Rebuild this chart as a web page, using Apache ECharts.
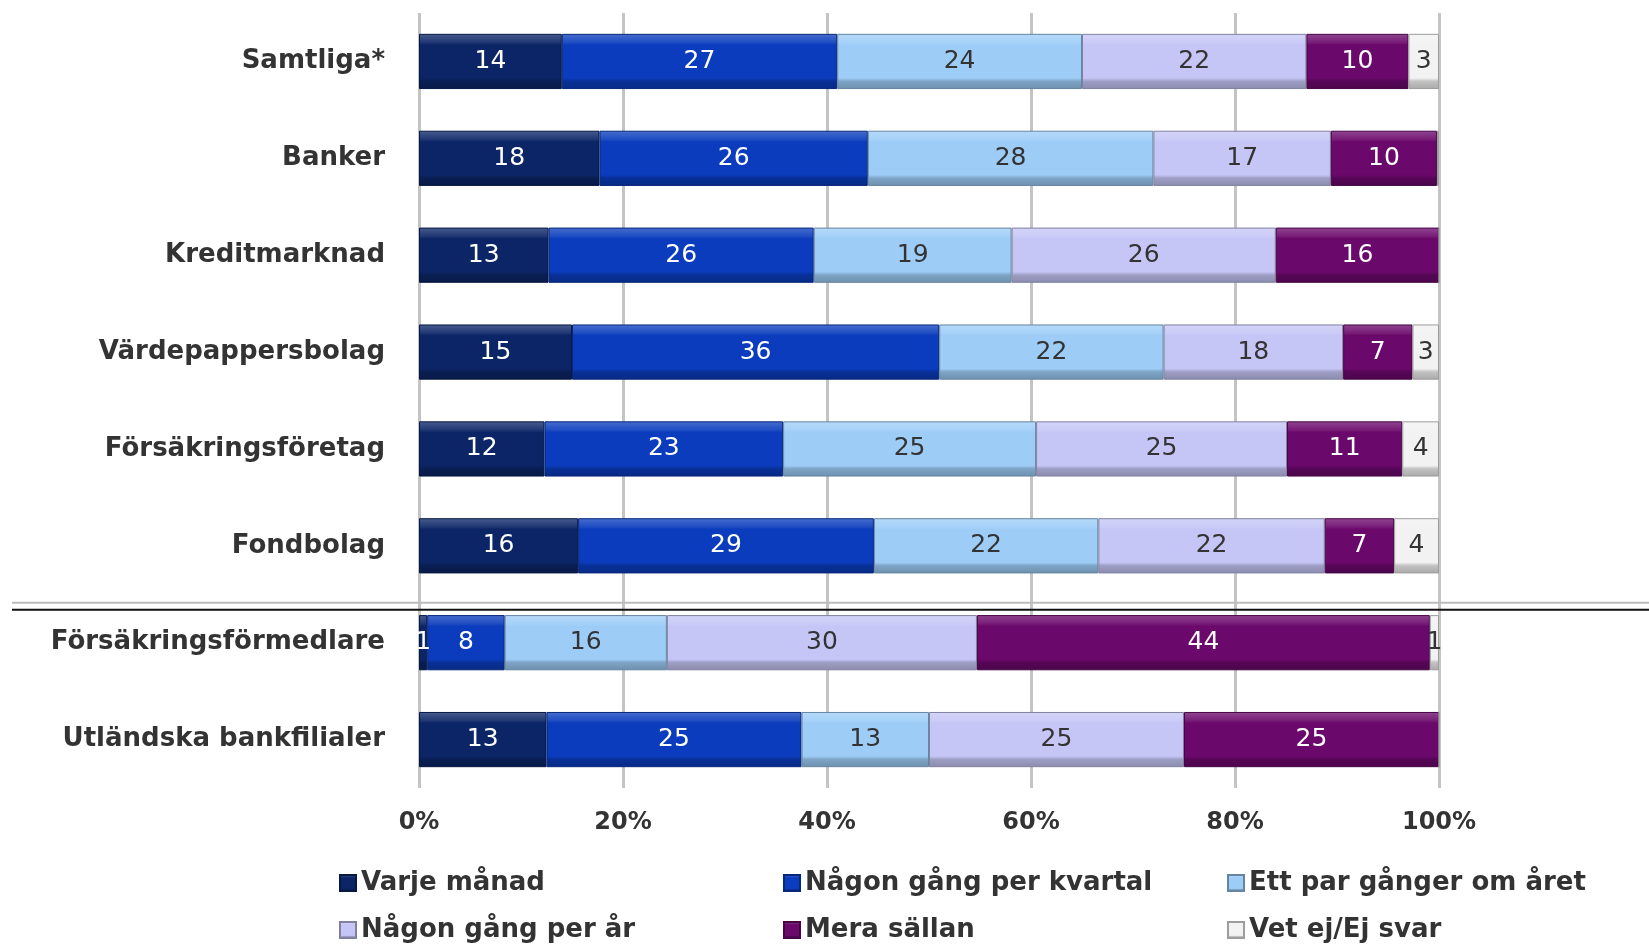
<!DOCTYPE html>
<html><head><meta charset="utf-8">
<script src="https://cdn.jsdelivr.net/npm/echarts@6/dist/echarts.min.js"></script>
<style>html,body{margin:0;padding:0;background:#fff}#c{width:1649px;height:944px}</style>
</head><body><div id="c"></div>
<script>
const categories = ['Samtliga*','Banker','Kreditmarknad','Värdepappersbolag','Försäkringsföretag','Fondbolag','Försäkringsförmedlare','Utländska bankfilialer'];
const seriesNames = ['Varje månad','Någon gång per kvartal','Ett par gånger om året','Någon gång per år','Mera sällan','Vet ej/Ej svar'];
const varjeManad   = [14, 17.7, 12.7, 15, 12.3, 15.6, 0.8, 12.5];
const perKvartal   = [27, 26.3, 26, 36, 23.4, 29.0, 7.6, 25];
const ettPar       = [24, 28, 19.4, 22, 24.8, 22.0, 15.9, 12.5];
const perAr        = [22, 17.4, 25.9, 17.6, 24.6, 22.2, 30.4, 25];
const meraSallan   = [10, 10.4, 16, 6.8, 11.3, 6.8, 44.4, 25];
const vetEj        = [3, 0.2, 0, 2.6, 3.6, 4.4, 0.9, 0];
const xTicks = [0, 20, 40, 60, 80, 100];

const baseColors = ['#0b2567','#0a3cbd','#9dcdf7','#c5c6f6','#6b086b','#f2f2f2'];
const labelColors = ['#ffffff','#ffffff','#333333','#333333','#ffffff','#333333'];
const allData = [varjeManad, perKvartal, ettPar, perAr, meraSallan, vetEj];

function shade(hex, f){
  const n = parseInt(hex.slice(1),16);
  let r=(n>>16)&255,g=(n>>8)&255,b=n&255;
  const adj = c => f>=0 ? Math.round(c+(255-c)*f) : Math.round(c*(1+f));
  return 'rgb('+adj(r)+','+adj(g)+','+adj(b)+')';
}
function grad(hex){
  return new echarts.graphic.LinearGradient(0,0,0,1,[
    {offset:0,color:shade(hex,0.25)},
    {offset:0.16,color:shade(hex,0.08)},
    {offset:0.2,color:hex},
    {offset:0.8,color:hex},
    {offset:0.86,color:shade(hex,-0.2)},
    {offset:1,color:shade(hex,-0.3)}
  ]);
}

const series = seriesNames.map((name,i)=>({
  name, type:'bar', stack:'total', barWidth:'57%',
  data: allData[i],
  itemStyle:{color:grad(baseColors[i]), borderColor:shade(baseColors[i],-0.35), borderWidth:1},
  label:{show:true, position:'inside', color:labelColors[i], fontFamily:'DejaVu Sans', fontSize:25,
    formatter:p=> p.value>=0.5 ? Math.round(p.value) : ''},
  emphasis:{disabled:true}
}));

const legendText = {fontFamily:'DejaVu Sans', fontSize:26, color:'#333', fontWeight:'bold'};
function legendItem(name, left, top){
  return {left, top, itemWidth:16, itemHeight:16, icon:'rect',
    data:[name], textStyle:legendText, selectedMode:false, padding:0};
}
const colLeft = [339, 783, 1227];
const rowTop = [870, 917];
const legendOrder = [['Varje månad','Någon gång per kvartal','Ett par gånger om året'],['Någon gång per år','Mera sällan','Vet ej/Ej svar']];
const legends = [];
legendOrder.forEach((row,r)=>row.forEach((n,c)=>legends.push(legendItem(n, colLeft[c], rowTop[r]))));

const chart = echarts.init(document.getElementById('c'), null, {renderer:'canvas'});
chart.setOption({
  animation:false,
  grid:{left:419, right:210, top:13, bottom:156},
  legend:legends,
  xAxis:{type:'value', min:0, max:100, interval:20,
    axisLine:{show:false}, axisTick:{show:false},
    splitLine:{show:true, lineStyle:{color:'#c4c4c4', width:3}},
    axisLabel:{formatter:v=>v+'%', fontFamily:'DejaVu Sans', fontWeight:'bold', fontSize:24, color:'#333', margin:23}},
  yAxis:{type:'category', data:categories, inverse:true,
    axisLine:{show:false}, axisTick:{show:false},
    axisLabel:{fontFamily:'DejaVu Sans', fontWeight:'bold', fontSize:26, color:'#333', margin:34}},
  series
});

const yB = chart.convertToPixel({yAxisIndex:0}, 'Försäkringsförmedlare');
chart.setOption({graphic:[
  {type:'line', shape:{x1:12,y1:yB-40,x2:1649,y2:yB-40}, style:{stroke:'#bdbdbd', lineWidth:2}, z:100},
  {type:'line', shape:{x1:12,y1:yB-33,x2:1649,y2:yB-33}, style:{stroke:'#111', lineWidth:2}, z:100}
]});
</script></body></html>
